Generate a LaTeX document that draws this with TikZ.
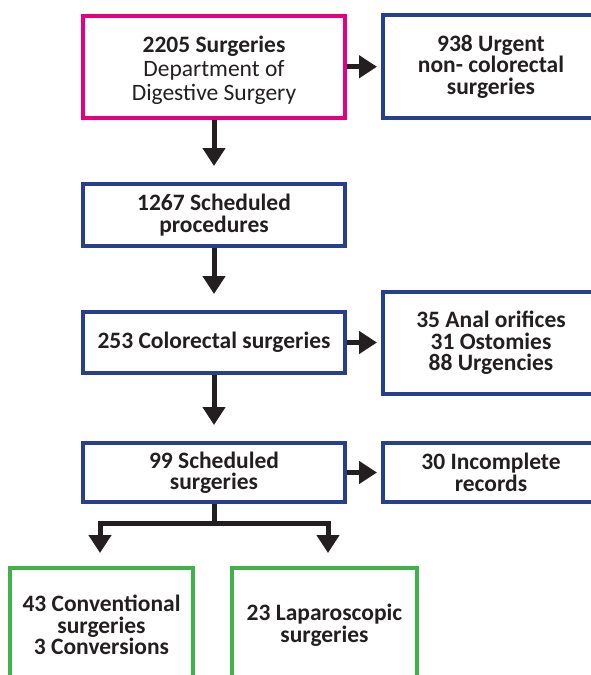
\documentclass[tikz,border=0pt]{standalone}
\usepackage{fontspec}
\setmainfont{Carlito}
\usetikzlibrary{arrows.meta,calc}
\definecolor{pinkc}{HTML}{E6007E}
\definecolor{bluec}{HTML}{263F8E}
\definecolor{greenc}{HTML}{3FB24A}
\definecolor{inkc}{HTML}{231F20}
\tikzset{
  box/.style={draw, line width=4pt, rectangle, inner sep=0pt, align=center, text=inkc,
    font=\fontsize{23.5}{21.5}\selectfont\bfseries},
  pinkbox/.style={box, draw=pinkc},
  pinktext/.style={align=center, text=inkc, inner sep=0pt, font=\fontsize{23.5}{24}\selectfont},
  bluebox/.style={box, draw=bluec},
  greenbox/.style={box, draw=greenc},
  arr/.style={draw=inkc, line width=5pt, -{Triangle[width=22pt,length=18pt]}},
  conn/.style={draw=inkc, line width=5pt},
}
\begin{document}
\begin{tikzpicture}[x=1pt,y=-1pt]
\clip (0,0) rectangle (591,675);
\node[pinkbox, minimum width=262pt, minimum height=101.5pt] (pink) at (214,66.75) {};
\node[pinktext] (pinkt) at (214,70.5)
  {\textbf{2205 Surgeries}\\Department of\\Digestive Surgery};
\node[bluebox, minimum width=216pt, minimum height=103pt] (urg) at (491,66.5)
  {938 Urgent\\non- colorectal\\surgeries};
\node[bluebox, minimum width=262pt, minimum height=62pt] (sched) at (214,215)
  {1267 Scheduled\\procedures};
\node[bluebox, minimum width=262pt, minimum height=61pt] (colo) at (214,342.5)
  {253 Colorectal surgeries};
\node[bluebox, minimum width=216pt, minimum height=102pt] (excl) at (491,343)
  {35 Anal orifices\\31 Ostomies\\88 Urgencies};
\node[bluebox, minimum width=262pt, minimum height=59pt] (sch2) at (214,472.5)
  {99 Scheduled\\surgeries};
\node[bluebox, minimum width=216pt, minimum height=59pt] (inc) at (491,472.5)
  {30 Incomplete\\records};
\node[greenbox, minimum width=183pt, minimum height=114pt] (conv) at (101.5,625)
  {43 Conventional\\surgeries\\3 Conversions};
\node[greenbox, minimum width=185pt, minimum height=114pt] (lap) at (324.5,625)
  {23 Laparoscopic\\surgeries};
% horizontal arrows
\draw[arr, shorten >=4pt] (pink.east) -- (pink.east -| urg.west);
\draw[arr, shorten >=4pt] (colo.east) -- (colo.east -| excl.west);
\draw[arr, shorten >=4pt] (sch2.east) -- (sch2.east -| inc.west);
% vertical arrows
\draw[arr, shorten >=16pt] (pink.south) -- (sched.north);
\draw[arr, shorten >=16pt] (sched.south) -- (colo.north);
\draw[arr, shorten >=16pt] (colo.south) -- (sch2.north);
% branch
\coordinate (bj) at (214,523);
\coordinate (bl) at (100,523);
\coordinate (br) at (328,523);
\draw[conn, line join=miter] (sch2.south) -- (bj);
\draw[arr, shorten >=13pt, line join=miter] (bj) -- (bl) -- (bl |- conv.north);
\draw[arr, shorten >=13pt, line join=miter] (bj) -- (br) -- (br |- lap.north);
\end{tikzpicture}
\end{document}
